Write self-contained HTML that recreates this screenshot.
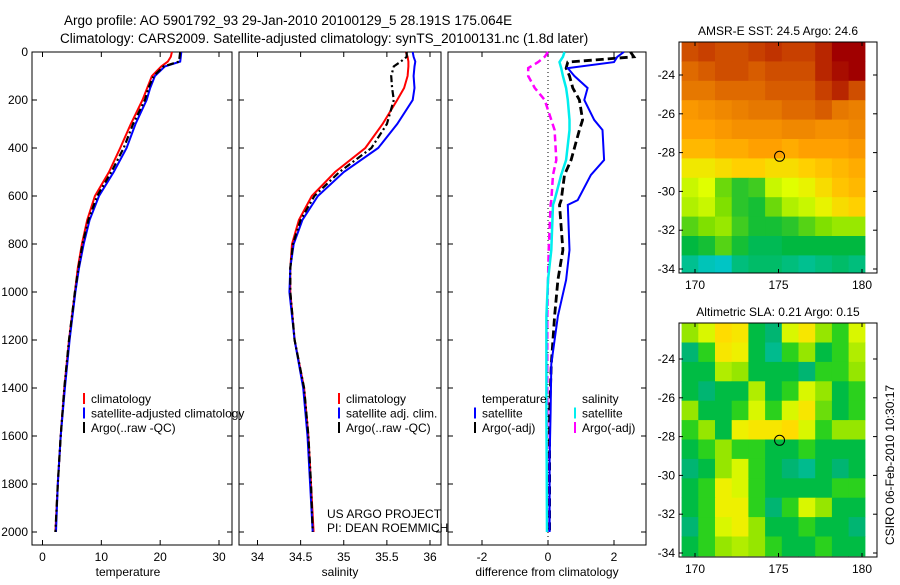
<!DOCTYPE html>
<html><head><meta charset="utf-8"><style>
body{margin:0;background:#fff}
svg{font-family:"Liberation Sans",sans-serif;font-size:12px}
</style></head><body>
<svg id="c" width="900" height="580" xmlns="http://www.w3.org/2000/svg">
<rect width="900" height="580" fill="#fff"/>
<text x="64" y="25" font-size="13.5">Argo profile: AO 5901792_93 29-Jan-2010 20100129_5 28.191S 175.064E</text>
<text x="60" y="43" font-size="13.5">Climatology: CARS2009. Satellite-adjusted climatology: synTS_20100131.nc (1.8d later)</text>
<text transform="translate(894,465) rotate(-90)" text-anchor="middle">CSIRO 06-Feb-2010 10:30:17</text>
</svg>
<script>
const depthP=[0,20,40,60,100,150,200,300,400,500,600,700,800,900,1000,1200,1400,1600,1800,2000];
const climT=[22,21.8,21.3,20.2,18.6,17.8,17.0,15.0,13.2,11.3,8.9,7.6,6.7,6.0,5.5,4.5,3.7,3.1,2.6,2.2];
const satT=[23.6,23.5,23.4,20.8,19.1,18.3,17.7,15.8,14.3,12.1,9.6,8.0,7.0,6.2,5.6,4.6,3.8,3.1,2.6,2.3];
const argoT=[23.4,23.3,23.2,20.6,18.9,18.0,17.4,15.4,13.8,11.7,9.3,7.8,6.8,6.1,5.5,4.5,3.7,3.1,2.6,2.2];
const climS=[35.72,35.74,35.75,35.75,35.74,35.7,35.62,35.45,35.25,34.9,34.63,34.48,34.4,34.38,34.38,34.43,34.54,34.59,34.62,34.65];
const satS=[35.8,35.81,35.83,35.82,35.81,35.82,35.8,35.62,35.4,35.0,34.7,34.52,34.42,34.38,34.37,34.43,34.53,34.58,34.61,34.64];
const argoS=[35.73,35.73,35.66,35.58,35.55,35.56,35.58,35.5,35.32,34.95,34.66,34.5,34.41,34.38,34.38,34.43,34.54,34.59,34.62,34.64];
const depthD=[0,20,42,67,100,150,200,283,325,450,512,617,637,825,950,1100,1300,1500,1700,2000];
const satTd=[2.3,2.1,2.0,0.6,0.8,1.2,1.1,1.4,1.65,1.7,1.3,0.9,0.6,0.65,0.55,0.3,0.1,0.08,0.05,0.05];
const argoTd=[2.5,2.6,0.6,0.55,0.65,0.75,0.95,1.05,0.95,0.7,0.5,0.4,0.35,0.45,0.3,0.2,0.1,0.05,0.05,0.05];
const satSd=[0.5,0.45,0.35,0.4,0.45,0.55,0.6,0.65,0.65,0.55,0.4,0.2,0.15,0.1,0.0,-0.05,-0.05,-0.05,-0.04,-0.03];
const argoSd=[0.0,-0.1,-0.3,-0.6,-0.6,-0.4,-0.1,0.1,0.2,0.25,0.15,0.1,0.08,0.02,0.0,-0.02,-0.02,-0.02,-0.02,-0.02];
const depthTicks=[0,200,400,600,800,1000,1200,1400,1600,1800,2000];
const tempTicks=[0,10,20,30];
const salTicks=[34,34.5,35,35.5,36];
const diffTicks=[-2,0,2];
const lonTicks=[170,175,180];
const latTicks=[-24,-26,-28,-30,-32,-34];
const mapLons=[169.2,170.2,171.2,172.2,173.2,174.2,175.2,176.2,177.2,178.2,179.2];
const sstRows=[
[25.6,25.7,25.6,25.6,25.7,25.8,25.7,25.7,25.9,26.2,26.2],
[25.4,25.5,25.6,25.6,25.5,25.6,25.6,25.6,25.9,26.1,26.2],
[25.3,25.3,25.4,25.4,25.4,25.5,25.5,25.5,25.7,25.9,25.6],
[24.9,25.0,25.1,25.2,25.3,25.3,25.4,25.4,25.5,25.3,25.2],
[24.8,24.8,24.9,25.0,25.0,25.0,25.1,25.1,25.0,25.0,25.1],
[24.6,24.6,24.7,24.7,24.8,24.8,24.7,24.8,24.8,24.8,24.9],
[24.2,24.2,24.3,24.4,24.4,24.3,24.3,24.4,24.5,24.6,24.7],
[23.9,24.0,23.5,23.2,23.3,23.9,24.0,24.1,24.3,24.5,24.6],
[23.8,23.9,23.6,23.2,23.1,23.5,23.8,23.9,24.1,24.3,24.4],
[23.4,23.6,23.7,23.3,23.1,23.1,23.2,23.4,23.6,23.7,23.7],
[23.0,23.1,23.4,23.1,22.9,22.9,23.0,23.0,23.0,23.0,23.0],
[22.6,22.3,22.2,22.7,22.8,22.8,22.7,22.6,22.7,22.8,22.7]];
const slaRows=[
[0.1,0.15,0.22,0.2,0.0,-0.05,0.15,0.2,0.1,0.05,0.15],
[-0.05,0.05,0.2,0.18,0.0,-0.08,0.05,0.1,0.0,0.05,0.12],
[0.0,0.0,0.12,0.1,0.0,0.0,0.0,-0.05,0.05,0.05,0.1],
[0.0,-0.05,0.0,0.0,0.12,0.0,0.05,0.15,0.1,0.0,0.05],
[0.1,0.0,0.0,0.05,0.15,0.05,0.15,0.2,0.08,0.0,0.05],
[0.05,0.1,0.0,0.18,0.2,0.2,0.22,0.15,0.05,0.1,0.1],
[0.0,0.05,0.1,0.05,0.05,0.0,0.0,0.05,0.0,0.0,0.0],
[-0.05,0.0,0.1,0.15,0.05,0.0,-0.05,-0.08,0.0,-0.05,0.0],
[0.0,0.05,0.18,0.15,0.05,0.0,0.0,0.0,0.0,0.05,0.05],
[0.0,0.05,0.18,0.18,0.05,-0.05,0.05,0.15,0.1,0.0,0.0],
[-0.05,0.05,0.15,0.18,0.1,0.0,0.0,0.05,0.0,0.0,-0.05],
[0.0,0.05,0.1,0.12,0.1,0.05,0.0,0.0,0.05,0.0,0.0]];
const argoLon=175.064, argoLat=-28.191;

const NS='http://www.w3.org/2000/svg';
const svg=document.getElementById('c');
function mk(tag,attrs,parent){const e=document.createElementNS(NS,tag);for(const k in attrs)e.setAttribute(k,attrs[k]);(parent||svg).appendChild(e);return e;}
const Y0=52,YS=0.24,BOT=545;
function yDepth(d){return Y0+d*YS;}
function lin(d0,d1,p0,p1){return v=>p0+(v-d0)*(p1-p0)/(d1-d0);}
const xT=lin(0,30,42.5,219);
const xS=lin(34,36,257.5,430);
const xD=lin(0,2,548,614);

function frame(x0,x1,name){
  const r=mk('rect',{x:x0,y:Y0,width:x1-x0,height:BOT-Y0,fill:'none',stroke:'#000','stroke-width':1});
  
  
}
function xticks(ticks,fx,x0,x1,label,lx,name){
  const g=mk('g',{});
  
  
  ticks.forEach(t=>{const x=fx(t);
    mk('line',{x1:x,x2:x,y1:BOT,y2:BOT-5,stroke:'#000'},g);
    mk('line',{x1:x,x2:x,y1:Y0,y2:Y0+5,stroke:'#000'},g);
    const tx=mk('text',{x:x,y:BOT+16,'text-anchor':'middle'},g);tx.textContent=t;});
  depthTicks.forEach(d=>{const y=yDepth(d);
    mk('line',{x1:x0,x2:x0+5,y1:y,y2:y,stroke:'#000'},g);
    mk('line',{x1:x1,x2:x1-5,y1:y,y2:y,stroke:'#000'},g);});
  const l=mk('text',{x:lx,y:BOT+31,'text-anchor':'middle'},g);l.textContent=label;
}
function line(vals,depths,fx,color,w,dash,name){
  const pts=vals.map((v,i)=>fx(v).toFixed(1)+','+yDepth(depths[i]).toFixed(1)).join(' ');
  const p=mk('polyline',{points:pts,fill:'none',stroke:color,'stroke-width':w,'stroke-dasharray':dash||'none'});
  
  
}
function legend(x,y,items,name){
  const g=mk('g',{});
  
  
  items.forEach((it,i)=>{const yy=y+i*14.5;
    if(it[0])mk('line',{x1:x,x2:x,y1:yy-10,y2:yy+1,stroke:it[0],'stroke-width':2},g);
    const t=mk('text',{x:x+7,y:yy},g);t.textContent=it[1];});
}
// panel 1
frame(32,232,'temperature-panel');
xticks(tempTicks,xT,32,232,'temperature',128,'temperature-x-axis');
depthTicks.forEach(d=>{const t=mk('text',{x:28,y:yDepth(d)+4,'text-anchor':'end'});
  
  
  t.textContent=d;});
line(climT,depthP,xT,'#f00',2,null,'temp-climatology-line');
line(satT,depthP,xT,'#00f',2,null,'temp-satellite-line');
line(argoT,depthP,xT,'#000',2.2,'7,3,2,3','temp-argo-line');
legend(84,403,[['#f00','climatology'],['#00f','satellite-adjusted climatology'],['#000','Argo(..raw -QC)']],'temperature-legend');
// panel 2
frame(239,441,'salinity-panel');
xticks(salTicks,xS,239,441,'salinity',340,'salinity-x-axis');
line(climS,depthP,xS,'#f00',2,null,'sal-climatology-line');
line(satS,depthP,xS,'#00f',2,null,'sal-satellite-line');
line(argoS,depthP,xS,'#000',2.2,'7,3,2,3','sal-argo-line');
legend(339,403,[['#f00','climatology'],['#00f','satellite adj. clim.'],['#000','Argo(..raw -QC)']],'salinity-legend');
const us=mk('text',{x:327,y:518});us.textContent='US ARGO PROJECT';
const pi=mk('text',{x:327,y:532});pi.textContent='PI: DEAN ROEMMICH';
// panel 3
frame(448,646,'difference-panel');
xticks(diffTicks,xD,448,646,'difference from climatology',547,'difference-x-axis');
const zl=mk('line',{x1:xD(0),x2:xD(0),y1:Y0,y2:BOT,stroke:'#000','stroke-dasharray':'1,3'});

line(argoSd,depthD,xD,'#f0f',2.5,'7,4','sal-argo-diff-line');
line(satSd,depthD,xD,'#0ee',2.5,null,'sal-satellite-diff-line');
line(argoTd,depthD,xD,'#000',2.8,'8,4','temp-argo-diff-line');
line(satTd,depthD,xD,'#00f',2,null,'temp-satellite-diff-line');
legend(475,403,[[null,'temperature'],['#00f','satellite'],['#000','Argo(-adj)']],'diff-temp-legend');
legend(575,403,[[null,'salinity'],['#0ee','satellite'],['#f0f','Argo(-adj)']],'diff-sal-legend');

// maps
const xLon=lin(170,180,695,862);
function sstColor(v){const st=[[22.0,[0,200,224]],[22.6,[0,192,144]],[23.0,[0,184,64]],[23.6,[128,224,0]],[24.0,[224,255,0]],[24.4,[255,208,0]],[24.8,[255,160,0]],[25.3,[230,120,0]],[25.7,[200,64,0]],[26.2,[160,0,0]]];return ramp(v,st);}
function slaColor(v){const st=[[-0.1,[0,192,160]],[-0.03,[0,176,96]],[0.03,[0,200,40]],[0.1,[150,230,0]],[0.16,[230,250,0]],[0.22,[255,220,0]],[0.26,[255,190,0]]];return ramp(v,st);}
function ramp(v,st){if(v<=st[0][0])return 'rgb('+st[0][1]+')';for(let i=1;i<st.length;i++){if(v<=st[i][0]){const f=(v-st[i-1][0])/(st[i][0]-st[i-1][0]);const c=st[i-1][1].map((a,k)=>Math.round(a+(st[i][1][k]-a)*f));return 'rgb('+c+')';}}return 'rgb('+st[st.length-1][1]+')';}
function map(top,bot,yLat,latTop,rows,colorFn,title,name){
  const g=mk('g',{});
  
  
  rows.forEach((row,ri)=>{row.forEach((v,ci)=>{
    const lo=mapLons[ci];const la=latTop-ri;
    const x0=xLon(lo),x1=Math.min(xLon(lo+1),865);
    const y0=Math.max(yLat(la),top),y1=Math.min(yLat(la-1),bot);
    const r=mk('rect',{x:x0.toFixed(1),y:y0.toFixed(1),width:(x1-x0+0.4).toFixed(1),height:(y1-y0+0.4).toFixed(1),fill:colorFn(v)},g);
    
    
  });});
  mk('rect',{x:679,y:top,width:198,height:bot-top,fill:'none',stroke:'#000'},g);
  lonTicks.forEach(l=>{const x=xLon(l);mk('line',{x1:x,x2:x,y1:bot,y2:bot-4,stroke:'#000'},g);mk('line',{x1:x,x2:x,y1:top,y2:top+4,stroke:'#000'},g);
    const t=mk('text',{x:x,y:bot+16,'text-anchor':'middle'},g);t.textContent=l;});
  latTicks.forEach(l=>{const y=yLat(l);mk('line',{x1:679,x2:683,y1:y,y2:y,stroke:'#000'},g);mk('line',{x1:877,x2:873,y1:y,y2:y,stroke:'#000'},g);
    const t=mk('text',{x:675,y:y+4,'text-anchor':'end'},g);t.textContent=l;});
  const c=mk('circle',{cx:xLon(argoLon),cy:yLat(argoLat),r:5,fill:'none',stroke:'#000'},g);
  
  
  const t=mk('text',{x:778,y:top-7,'text-anchor':'middle'},g);t.textContent=title;
}
map(42,273,lin(-24,-34,75,269),-22.3,sstRows,sstColor,'AMSR-E SST: 24.5 Argo: 24.6','sst-map');
map(323,557,lin(-24,-34,359,553),-22.15,slaRows,slaColor,'Altimetric SLA: 0.21 Argo: 0.15','sla-map');
</script>
</body></html>
